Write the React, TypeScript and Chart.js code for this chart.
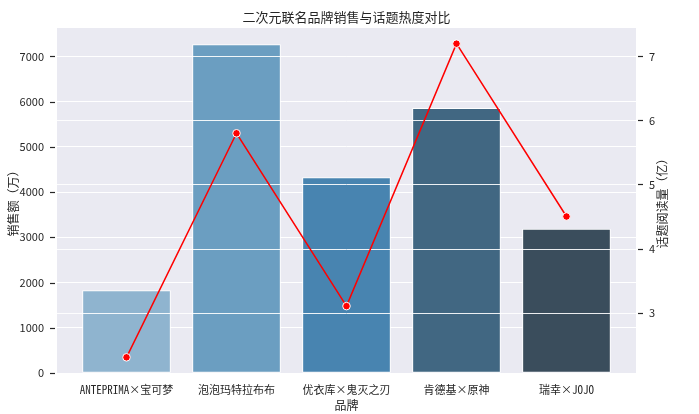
import React, { useEffect, useRef } from "react";
import { Chart, registerables } from "chart.js";

Chart.register(...registerables);

const categories = ["ANTEPRIMA×宝可梦", "泡泡玛特拉布布", "优衣库×鬼灭之刃", "肯德基×原神", "瑞幸×JOJO"];
const sales = [1820, 7260, 4320, 5850, 3180];
const heat = [2.3, 5.8, 3.1, 7.2, 4.5];
const barColors = ["#8fb4cf", "#6b9ec1", "#4884b0", "#416782", "#3a4d5c"];
const salesTicks = [0, 1000, 2000, 3000, 4000, 5000, 6000, 7000];
const heatTicks = [3, 4, 5, 6, 7];

const TITLE = "二次元联名品牌销售与话题热度对比";
const XTITLE = "品牌";
const YTITLE = "销售额（万）";
const Y1TITLE = "话题阅读量（亿）";

const TEXT = "#262626";
const CJK = "'Noto Sans CJK SC', sans-serif";
const MONO = "'Noto Sans Mono CJK SC', 'Liberation Mono', 'Noto Sans CJK SC', monospace";

export default function App() {
  const ref = useRef<HTMLCanvasElement | null>(null);

  useEffect(() => {
    document.body.style.margin = "0";
    const canvas = ref.current;
    if (!canvas) return;

    const deco = {
      id: "deco",
      beforeDraw(chart: any) {
        const { ctx, chartArea: a } = chart;
        ctx.save();
        ctx.fillStyle = "#ffffff";
        ctx.fillRect(0, 0, chart.width, chart.height);
        ctx.fillStyle = "#eaeaf2";
        ctx.fillRect(a.left, a.top, a.right - a.left, a.bottom - a.top);
        ctx.restore();
      },
      beforeDatasetDraw(chart: any, args: any) {
        if (args.index !== 1) return;
        const { ctx, chartArea: a } = chart;
        const y1 = chart.scales.y1;
        ctx.save();
        ctx.strokeStyle = "rgba(255,255,255,0.9)";
        ctx.lineWidth = 1;
        heatTicks.forEach((t) => {
          const py = Math.round(y1.getPixelForValue(t)) + 0.5;
          ctx.beginPath();
          ctx.moveTo(a.left, py);
          ctx.lineTo(a.right, py);
          ctx.stroke();
        });
        ctx.restore();
      },
      afterDraw(chart: any) {
        const { ctx, chartArea: a } = chart;
        const y = chart.scales.y;
        const y1 = chart.scales.y1;
        ctx.save();
        ctx.strokeStyle = TEXT;
        ctx.lineWidth = 1.2;
        salesTicks.forEach((t) => {
          const py = Math.round(y.getPixelForValue(t)) + 0.5;
          ctx.beginPath();
          ctx.moveTo(a.left - 7, py);
          ctx.lineTo(a.left - 2, py);
          ctx.stroke();
        });
        heatTicks.forEach((t) => {
          const py = Math.round(y1.getPixelForValue(t)) + 0.5;
          ctx.beginPath();
          ctx.moveTo(a.right + 2, py);
          ctx.lineTo(a.right + 7, py);
          ctx.stroke();
        });
        ctx.fillStyle = TEXT;
        ctx.textAlign = "center";
        ctx.textBaseline = "middle";
        const cx = (a.left + a.right) / 2;
        const cy = (a.top + a.bottom) / 2;
        ctx.font = `13px ${CJK}`;
        ctx.fillText(TITLE, cx, 17.5);
        ctx.font = `12px ${CJK}`;
        ctx.fillText(XTITLE, cx, 405);
        ctx.save();
        ctx.translate(13, cy);
        ctx.rotate(-Math.PI / 2);
        ctx.fillText(YTITLE, 0, 0);
        ctx.restore();
        ctx.save();
        ctx.translate(662, cy);
        ctx.rotate(-Math.PI / 2);
        ctx.fillText(Y1TITLE, 0, 0);
        ctx.restore();
        ctx.restore();
      },
    };

    const chart = new Chart(canvas, {
      type: "bar",
      data: {
        datasets: [
          {
            type: "bar",
            data: sales.map((v, i) => ({ x: i, y: v })),
            backgroundColor: barColors,
            borderColor: "#ffffff",
            borderWidth: 1,
            borderSkipped: false,
            barThickness: 88,
            grouped: false,
            yAxisID: "y",
            order: 2,
          } as any,
          {
            type: "line",
            data: heat.map((v, i) => ({ x: i, y: v })),
            borderColor: "#ff0000",
            borderWidth: 1.5,
            pointRadius: 3.8,
            pointBackgroundColor: "#ff0000",
            pointBorderColor: "#ffffff",
            pointBorderWidth: 1,
            yAxisID: "y1",
            order: 1,
            tension: 0,
          } as any,
        ],
      },
      plugins: [deco],
      options: {
        animation: false,
        responsive: false,
        devicePixelRatio: 1,
        layout: { padding: { top: 28, left: 0, right: 0, bottom: 0 } },
        plugins: {
          legend: { display: false },
          title: { display: false },
          tooltip: { enabled: false },
        },
        scales: {
          x: {
            type: "linear",
            offset: false,
            min: -0.632,
            max: 4.632,
            grid: { display: false, offset: false },
            border: { display: false },
            afterBuildTicks: (s: any) => {
              s.ticks = categories.map((_, i) => ({ value: i }));
            },
            afterFit: (s: any) => {
              s.height = 41;
            },
            ticks: {
              padding: 2,
              maxRotation: 0,
              autoSkip: false,
              color: TEXT,
              font: { family: MONO, size: 11 },
              callback: (v: any) => categories[Math.round(Number(v))] ?? "",
            },
          },
          y: {
            type: "linear",
            position: "left",
            min: 0,
            max: 7627,
            grid: { color: "#ffffff", lineWidth: 1, drawTicks: false },
            border: { display: false },
            afterBuildTicks: (s: any) => {
              s.ticks = salesTicks.map((v) => ({ value: v }));
            },
            afterFit: (s: any) => {
              s.width = 57;
            },
            ticks: {
              padding: 13,
              color: TEXT,
              font: { family: CJK, size: 11 },
              callback: (v: any) => String(v),
            },
          },
          y1: {
            type: "linear",
            position: "right",
            min: 2.055,
            max: 7.445,
            grid: { display: false, drawTicks: false },
            border: { display: false },
            afterBuildTicks: (s: any) => {
              s.ticks = heatTicks.map((v) => ({ value: v }));
            },
            afterFit: (s: any) => {
              s.width = 63;
            },
            ticks: {
              padding: 13,
              color: TEXT,
              font: { family: CJK, size: 11 },
              callback: (v: any) => String(v),
            },
          },
        },
      } as any,
    });

    return () => chart.destroy();
  }, []);

  return (
    <div style={{ width: 699, height: 414 }}>
      <canvas ref={ref} width={699} height={414} style={{ display: "block" }} />
    </div>
  );
}
